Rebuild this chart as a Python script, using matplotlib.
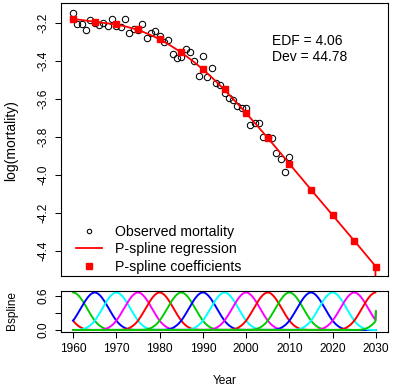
import numpy as np
import matplotlib
matplotlib.use("Agg")
import matplotlib.pyplot as plt
from matplotlib.lines import Line2D

plt.rcParams['font.family'] = ['Liberation Sans', 'DejaVu Sans']

# ---- data ----
years = list(range(1960, 2011))
log_mort = [-3.151, -3.207, -3.207, -3.237, -3.186, -3.200, -3.212, -3.200, -3.216, -3.179,
            -3.215, -3.224, -3.180, -3.253, -3.235, -3.240, -3.205, -3.279, -3.256, -3.245,
            -3.270, -3.303, -3.291, -3.363, -3.387, -3.379, -3.337, -3.353, -3.400, -3.479,
            -3.375, -3.486, -3.438, -3.516, -3.530, -3.572, -3.598, -3.607, -3.638, -3.651,
            -3.651, -3.737, -3.728, -3.728, -3.803, -3.803, -3.808, -3.884, -3.917, -3.986,
            -3.905]
# P-spline coefficients, one per cubic B-spline (centres 1955, 1960, ..., 2035)
coef_pos = [1955, 1960, 1965, 1970, 1975, 1980, 1985, 1990, 1995, 2000, 2005, 2010,
            2015, 2020, 2025, 2030, 2035]
coefs = [-3.170, -3.179, -3.195, -3.207, -3.235, -3.284, -3.354, -3.442, -3.551, -3.675,
         -3.805, -3.942, -4.079, -4.212, -4.347, -4.484, -4.620]
edf_text = "EDF = 4.06"
dev_text = "Dev = 44.78"
xticks = [1960, 1970, 1980, 1990, 2000, 2010, 2020, 2030]
yticks_top = [-3.2, -3.4, -3.6, -3.8, -4.0, -4.2, -4.4]
ytick_labels_top = ["-3.2", "-3.4", "-3.6", "-3.8", "-4.0", "-4.2", "-4.4"]
yticks_bot = [0.0, 0.3, 0.6]
ytick_labels_bot = ["0.0", "", "0.6"]
legend_labels = ["Observed mortality", "P-spline regression", "P-spline coefficients"]
basis_colors = ["red", "#00CD00", "blue", "cyan", "magenta"]

# B-spline basis settings (model definition)
xl, xr, nseg, bdeg = 1960, 2030, 14, 3


def bbase(x, xl, xr, nseg, bdeg):
    dx = (xr - xl) / nseg
    knots = xl + dx * np.arange(-bdeg, nseg + bdeg + 1)
    x = np.asarray(x, float)
    B = np.zeros((len(x), len(knots) - 1))
    for j in range(len(knots) - 1):
        B[:, j] = (x >= knots[j]) & (x < knots[j + 1])
    B[x == knots[-bdeg - 1], nseg + bdeg - 1] = 1.0
    for d in range(1, bdeg + 1):
        Bn = np.zeros((len(x), len(knots) - 1 - d))
        for j in range(len(knots) - 1 - d):
            a = (x - knots[j]) / (knots[j + d] - knots[j]) * B[:, j]
            b = (knots[j + d + 1] - x) / (knots[j + d + 1] - knots[j + 1]) * B[:, j + 1]
            Bn[:, j] = a + b
        B = Bn
    return B


xg = np.linspace(xl, xr, 701)
Bg = bbase(xg, xl, xr, nseg, bdeg)
fit = Bg @ np.array(coefs)

W, H = 397, 389
fig = plt.figure(figsize=(W / 100, H / 100), dpi=100)


def px_rect(l, t, r, b):
    return [l / W, 1 - b / H, (r - l) / W, (b - t) / H]


ax = fig.add_axes(px_rect(61, 3, 388, 276))
ax2 = fig.add_axes(px_rect(61, 291, 388, 331.5))

# top panel
ax.plot(years, log_mort, linestyle='none', marker='o', markersize=4.6,
        markerfacecolor='none', markeredgecolor='black', markeredgewidth=0.75)
ax.plot(xg, fit, color='red', lw=1.3)
ax.plot(coef_pos, coefs, linestyle='none', marker='s', markersize=4.2, color='red')
ax.set_xlim(1957.2, 2032.8)
ax.set_ylim(-4.533, -3.096)
ax.set_xticks([])
ax.set_yticks(yticks_top)
ax.set_yticklabels(ytick_labels_top)
ax.tick_params(axis='y', direction='out', length=4.3, width=0.75, pad=4,
               labelsize=8.6, labelrotation=90)
for lab in ax.get_yticklabels():
    lab.set_va('center')
for s in ax.spines.values():
    s.set_linewidth(0.8)

fig.text(272 / W, 1 - 41 / H, edf_text, fontsize=10, ha='left', va='center')
fig.text(272 / W, 1 - 57 / H, dev_text, fontsize=10, ha='left', va='center')

handles = [
    Line2D([], [], linestyle='none', marker='o', markersize=3.2, markerfacecolor='none',
           markeredgecolor='black', markeredgewidth=0.75),
    Line2D([], [], color='red', lw=1.3),
    Line2D([], [], linestyle='none', marker='s', markersize=4.6, color='red'),
]
ax.legend(handles, legend_labels, loc='lower left', bbox_to_anchor=(0.045, 0.008),
          frameon=False, fontsize=10.2, borderpad=0, borderaxespad=0,
          handlelength=1.85, handletextpad=0.95, labelspacing=0.24)

fig.text(11 / W, 1 - 141 / H, "log(mortality)", fontsize=10, rotation=90,
         ha='center', va='center')

# bottom panel
for j in range(Bg.shape[1]):
    ax2.plot(xg, Bg[:, j], color=basis_colors[j % len(basis_colors)], lw=1.4)
ax2.set_xlim(1957.2, 2032.8)
ax2.set_ylim(-0.0267, 0.6933)
ax2.set_xticks(xticks)
ax2.set_xticklabels([str(v) for v in xticks])
ax2.set_yticks(yticks_bot)
ax2.set_yticklabels(ytick_labels_bot)
ax2.tick_params(axis='both', direction='out', length=4.3, width=0.75, pad=4, labelsize=8.6)
ax2.tick_params(axis='y', labelrotation=90)
for lab in ax2.get_yticklabels():
    lab.set_va('center')
for s in ax2.spines.values():
    s.set_linewidth(0.8)

fig.text(12 / W, 1 - 311 / H, "Bspline", fontsize=8.6, rotation=90, ha='center', va='center')
fig.text(224.5 / W, 1 - 381.5 / H, "Year", fontsize=8.6, ha='center', va='center')

fig.savefig("out.png", dpi=100)
